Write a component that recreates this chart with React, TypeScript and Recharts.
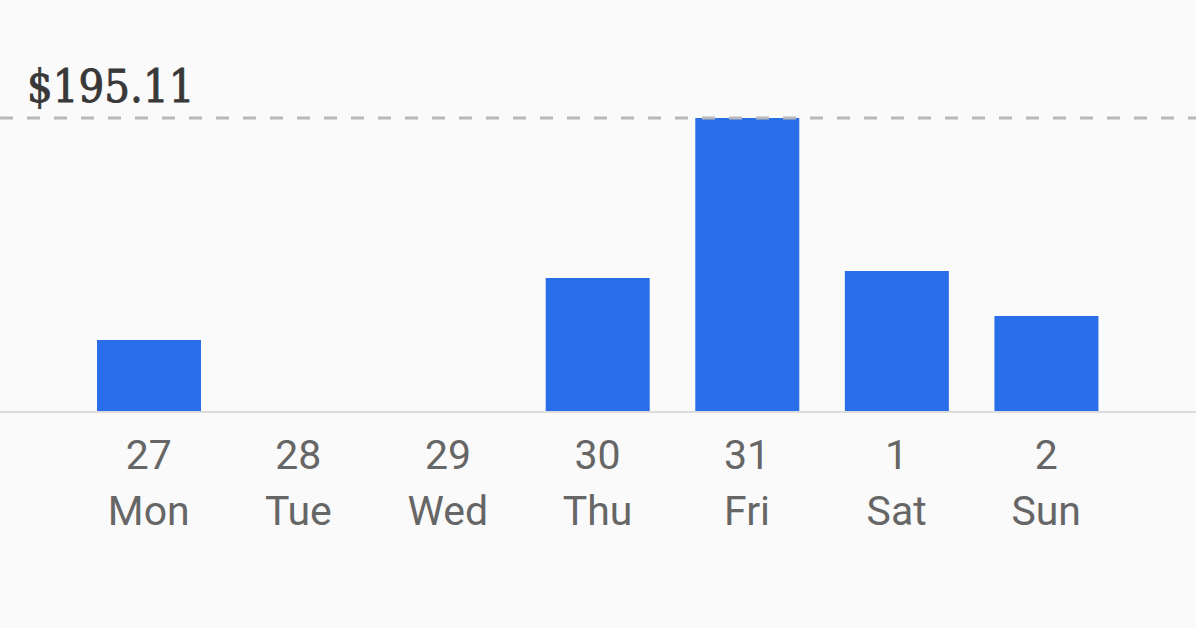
import React from "react";
import { Bar, BarChart, ReferenceLine, XAxis, YAxis } from "recharts";

const DAYS = ["27", "28", "29", "30", "31", "1", "2"];
const WEEKDAYS = ["Mon", "Tue", "Wed", "Thu", "Fri", "Sat", "Sun"];
const AMOUNTS = [47.8, 0, 0, 88.9, 195.11, 93.6, 63.7];
const MAX_AMOUNT = 195.11;

const data = DAYS.map((day, i) => ({ day, weekday: WEEKDAYS[i], amount: AMOUNTS[i] }));

function DayTick(props: any) {
  const { x, y, payload } = props;
  const row = data[payload.index];
  return (
    <g>
      <text x={x} y={y + 49} textAnchor="middle" fontFamily="Roboto" fontSize={41} fill="#666">
        {row.day}
      </text>
      <text x={x} y={y + 105} textAnchor="middle" fontFamily="Roboto" fontSize={41} fill="#666">
        {row.weekday}
      </text>
    </g>
  );
}

function MaxLabel(props: any) {
  const { viewBox } = props;
  return (
    <text
      x={27}
      y={viewBox.y - 16}
      fontFamily="DejaVu Serif Condensed, DejaVu Serif"
      fontStretch="condensed"
      fontSize={45}
      fill="#383838"
      stroke="#383838"
      strokeWidth={0.9}
    >
      ${MAX_AMOUNT.toFixed(2)}
    </text>
  );
}

export default function App() {
  return (
    <div style={{ position: "fixed", left: 0, top: 0, width: 1196, height: 628, background: "#fafafa" }}>
      <BarChart width={1196} height={628} data={data} margin={{ top: 118, right: 0, bottom: 0, left: 0 }}>
        <YAxis hide domain={[0, MAX_AMOUNT]} />
        <XAxis
          dataKey="day"
          height={216}
          padding={{ left: 74, right: 75 }}
          tickLine={false}
          axisLine={{ stroke: "#dcdcdc", strokeWidth: 2 }}
          tick={<DayTick />}
          interval={0}
        />
        <ReferenceLine y={MAX_AMOUNT} stroke="#b8b8b8" strokeWidth={3} strokeDasharray="13 14" label={<MaxLabel />} />
        <Bar dataKey="amount" fill="#2a6de8" barSize={104} isAnimationActive={false} />
      </BarChart>
    </div>
  );
}
